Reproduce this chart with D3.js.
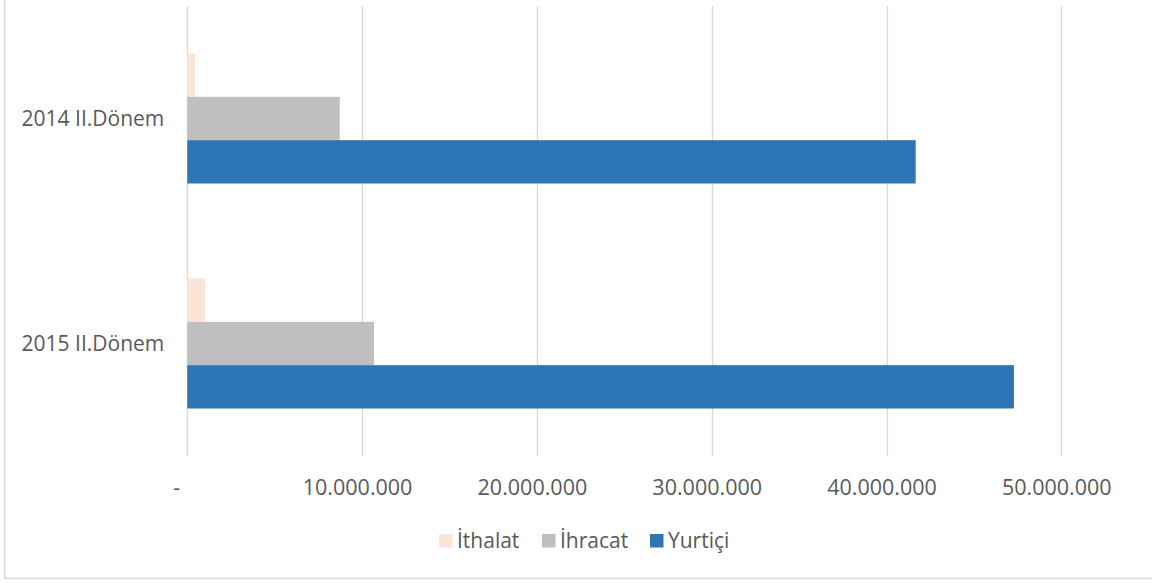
<!DOCTYPE html>
<html>
<head>
<meta charset="utf-8">
<script src="https://cdn.jsdelivr.net/npm/d3@7"></script>
<style>
  html, body { margin: 0; padding: 0; background: #fff; }
  svg { display: block; }
  text { font-family: "Open Sans", "Noto Sans", sans-serif; fill: #595959; }
</style>
</head>
<body>
<svg id="chart" width="1152" height="583"></svg>
<script>
// Periods (top to bottom)
const categories = ["2014 II.Dönem", "2015 II.Dönem"];
// Series, in drawing order within each period
const seriesNames = ["İthalat", "İhracat", "Yurtiçi"];
const ithalat = [440000, 1010000];
const ihracat = [8720000, 10680000];
const yurtici = [41670000, 47290000];
// Value axis ticks and their labels
const tickValues = [0, 10000000, 20000000, 30000000, 40000000, 50000000];
const tickLabels = ["-", "10.000.000", "20.000.000", "30.000.000", "40.000.000", "50.000.000"];

const colors = { "İthalat": "#FBE5D6", "İhracat": "#BFBFBF", "Yurtiçi": "#2E75B6" };
const values = { "İthalat": ithalat, "İhracat": ihracat, "Yurtiçi": yurtici };

const svg = d3.select("#chart");

// Chart frame
svg.append("rect")
  .attr("x", 4.5).attr("y", -10)
  .attr("width", 1200).attr("height", 588.5)
  .attr("fill", "none").attr("stroke", "#d9d9d9").attr("stroke-width", 1.5);

const plot = { left: 187.3, right: 1061.3, top: 6, bottom: 456 };

const x = d3.scaleLinear().domain([0, 50000000]).range([plot.left, plot.right]);
const y0 = d3.scaleBand().domain(categories)
  .range([plot.top, plot.bottom])
  .paddingInner(95 / 225).paddingOuter(95 / 450);
const y1 = d3.scaleBand().domain(seriesNames).range([0, y0.bandwidth()]);

// Vertical gridlines
svg.append("g").selectAll("line").data(tickValues).join("line")
  .attr("x1", d => Math.round(x(d)) + 0.5).attr("x2", d => Math.round(x(d)) + 0.5)
  .attr("y1", plot.top).attr("y2", plot.bottom)
  .attr("stroke", "#d9d9d9").attr("stroke-width", 1.3);

// Bars
const rows = [];
categories.forEach((c, i) => seriesNames.forEach(s => rows.push({ cat: c, series: s, value: values[s][i] })));
svg.append("g").selectAll("rect").data(rows).join("rect")
  .attr("x", x(0))
  .attr("y", d => y0(d.cat) + y1(d.series))
  .attr("width", d => x(d.value) - x(0))
  .attr("height", y1.bandwidth())
  .attr("fill", d => colors[d.series]);

// Value axis labels
const xAxis = d3.axisBottom(x)
  .tickValues(tickValues)
  .tickFormat((d, i) => tickLabels[i])
  .tickSize(0).tickPadding(0);
const xg = svg.append("g").attr("transform", `translate(0, ${plot.bottom})`).call(xAxis);
xg.select(".domain").remove();
xg.selectAll("text")
  .attr("dy", null)
  .attr("y", 39)
  .attr("dx", (d, i) => i === 0 ? -11 : -5)
  .style("font-size", "21.5px")
  .style("font-family", "'Open Sans', sans-serif")
  .attr("fill", "#595959");

// Category labels
const yAxis = d3.axisLeft(y0).tickSize(0).tickPadding(0);
const yg = svg.append("g").attr("transform", `translate(${plot.left - 23}, 0)`).call(yAxis);
yg.select(".domain").remove();
yg.selectAll("text")
  .attr("dy", "0.35em")
  .style("font-size", "21px")
  .style("font-family", "'Open Sans', sans-serif")
  .attr("fill", "#595959");

// Legend
const legendItems = [
  { name: "İthalat", x: 439 },
  { name: "İhracat", x: 542 },
  { name: "Yurtiçi", x: 650 }
];
const lg = svg.append("g").selectAll("g").data(legendItems).join("g")
  .attr("transform", d => `translate(${d.x}, 534)`);
lg.append("rect").attr("width", 13.5).attr("height", 13.5).attr("fill", d => colors[d.name]);
lg.append("text").attr("x", 18).attr("y", 7).attr("dy", "0.35em")
  .style("font-size", "21px").text(d => d.name);
</script>
</body>
</html>
